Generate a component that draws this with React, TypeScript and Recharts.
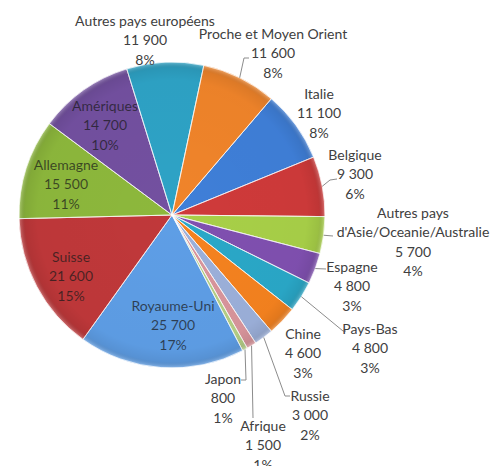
import React from 'react';
import { PieChart, Pie, Cell } from 'recharts';

const categories = [
  'Italie',
  'Belgique',
  "Autres pays\nd'Asie/Oceanie/Australie",
  'Espagne',
  'Pays-Bas',
  'Chine',
  'Russie',
  'Afrique',
  'Japon',
  'Royaume-Uni',
  'Suisse',
  'Allemagne',
  'Amériques',
  'Autres pays européens',
  'Proche et Moyen Orient',
];

const values = [11100, 9300, 5700, 4800, 4800, 4600, 3000, 1500, 800, 25700, 21600, 15500, 14700, 11900, 11600];

const percentLabels = ['8%', '6%', '4%', '3%', '3%', '3%', '2%', '1%', '1%', '17%', '15%', '11%', '10%', '8%', '8%'];

const colors = [
  '#3F7FD8', '#CF3A3A', '#A8D048', '#8050B0', '#2AA8C8', '#F5821F',
  '#9CB0DA', '#D9959C', '#B5CF86', '#5E9EE6', '#C0383A', '#8DB83C',
  '#7350A0', '#2EA3C6', '#F0842A',
];

// label layout: first-line centre relative to the pie centre
const labelOffsets: [number, number][] = [
  [147, -122], [183, -61], [241, -3], [180, 51], [198, 113], [131, 118],
  [138, 180], [91, 210], [51, 163], [1, 90], [-101, 41], [-106, -51],
  [-67, -110], [-27, -195], [101, -182],
];

// leader line points after the slice edge point (relative to pie centre)
const leaders: ([number, number][] | null)[] = [
  null,
  [[158, -35], [165, -36]],
  [[161, 21]],
  [[154, 54]],
  [[171, 116], [174, 116]],
  null,
  [[113, 181], [118, 181]],
  [[81, 203]],
  [[74, 165], [69, 165]],
  null, null, null, null, null,
  [[72, -157], [77, -157]],
];

const insideLabels = [9, 10, 11, 12];

const formatValue = (v: number) => String(v).replace(/\B(?=(\d{3})+(?!\d))/g, ' ');

const data = categories.map((name, i) => ({ name, value: values[i] }));

const RAD = Math.PI / 180;
const LINE_H = 19.3;

const renderLabel = (props: any) => {
  const { cx, cy, midAngle, outerRadius, index } = props;
  const [dx, dy] = labelOffsets[index];
  const x = cx + dx;
  const y = cy + dy;
  const lines = [...categories[index].split('\n'), formatValue(values[index]), percentLabels[index]];
  const inside = insideLabels.includes(index);
  const lead = leaders[index];
  let poly: string | null = null;
  if (lead) {
    const sx = cx + outerRadius * Math.cos(-midAngle * RAD);
    const sy = cy + outerRadius * Math.sin(-midAngle * RAD);
    poly = [[sx, sy], ...lead.map(([px, py]) => [cx + px, cy + py])].map((p) => p.join(',')).join(' ');
  }
  return (
    <g key={`lbl-${index}`}>
      {poly && <polyline points={poly} fill="none" stroke="#8c8c8c" strokeWidth={1} />}
      <text
        x={x}
        y={y}
        textAnchor="middle"
        dominantBaseline="central"
        fontFamily="Lato, 'Open Sans', sans-serif"
        fontSize={14}
        fill={inside ? '#1a1a1a' : '#404040'}
        fillOpacity={inside ? 0.72 : 1}
      >
        {lines.map((l, i) => (
          <tspan key={i} x={x} y={y + i * LINE_H}>
            {l}
          </tspan>
        ))}
      </text>
    </g>
  );
};

export default function App() {
  return (
    <div style={{ position: 'absolute', left: 0, top: 0, width: 496, height: 466, background: '#fff' }}>
      <PieChart width={496} height={466} margin={{ top: 0, right: 0, bottom: 0, left: 0 }}>
        <defs>
          <radialGradient id="bevel" gradientUnits="userSpaceOnUse" cx={172} cy={215} r={153}>
            <stop offset="0%" stopColor="#000" stopOpacity={0} />
            <stop offset="88%" stopColor="#000" stopOpacity={0.02} />
            <stop offset="96%" stopColor="#000" stopOpacity={0.08} />
            <stop offset="100%" stopColor="#fff" stopOpacity={0.3} />
          </radialGradient>
        </defs>
        <Pie
          data={data}
          dataKey="value"
          nameKey="name"
          cx={172}
          cy={215}
          outerRadius={153}
          startAngle={49.5}
          endAngle={-310.5}
          isAnimationActive={false}
          labelLine={false}
          label={renderLabel}
          stroke="rgba(255,255,255,0.55)"
          strokeWidth={1}
        >
          {data.map((d, i) => (
            <Cell key={d.name} fill={colors[i]} />
          ))}
        </Pie>
        <Pie
          data={data}
          dataKey="value"
          cx={172}
          cy={215}
          outerRadius={153}
          startAngle={49.5}
          endAngle={-310.5}
          isAnimationActive={false}
          label={false}
          labelLine={false}
          fill="url(#bevel)"
          stroke="rgba(255,255,255,0.35)"
          strokeWidth={1}
        />
      </PieChart>
    </div>
  );
}
